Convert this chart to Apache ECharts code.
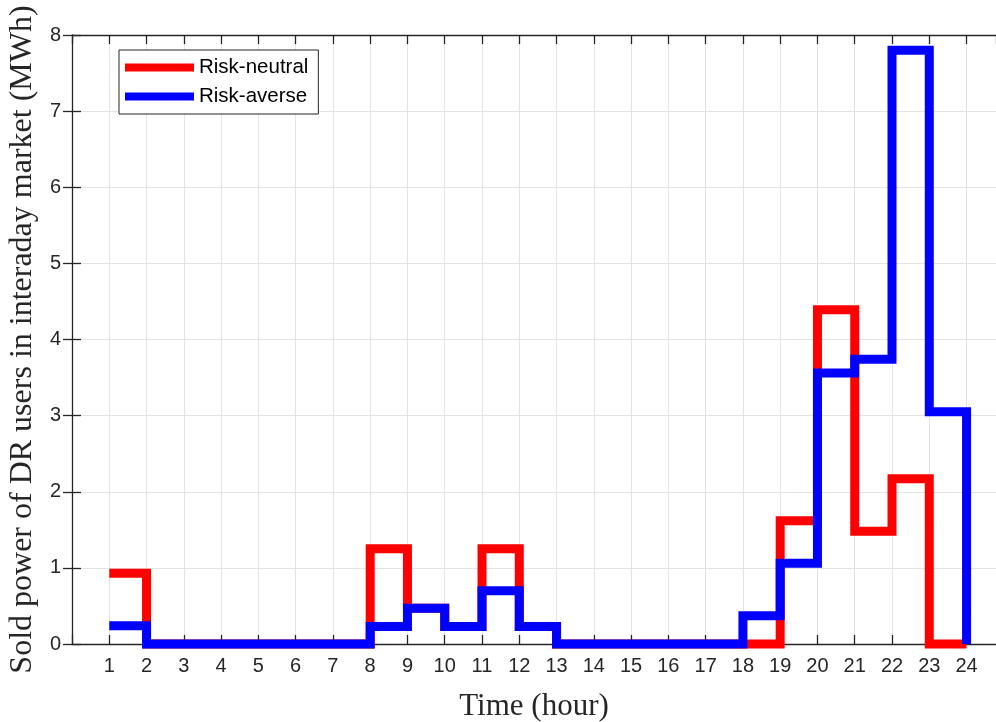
<!DOCTYPE html>
<html>
<head>
<meta charset="utf-8">
<script src="https://cdn.jsdelivr.net/npm/echarts@6/dist/echarts.min.js"></script>
<style>
html,body{margin:0;padding:0;background:#fff;}
#chart{width:996px;height:722px;}
</style>
</head>
<body>
<div id="chart"></div>
<script>
const hours = [1,2,3,4,5,6,7,8,9,10,11,12,13,14,15,16,17,18,19,20,21,22,23,24];
const riskNeutral = [0.93,0,0,0,0,0,0,1.25,0.47,0.23,1.25,0.23,0,0,0,0,0,0,1.62,4.39,1.48,2.17,0,0];
const riskAverse  = [0.24,0,0,0,0,0,0,0.23,0.47,0.23,0.70,0.23,0,0,0,0,0,0.37,1.06,3.56,3.74,7.80,3.05,0];
const seriesNames = ['Risk-neutral','Risk-averse'];
const xTitle = 'Time (hour)';
const yTitle = 'Sold power of DR users in interaday market (MWh)';

const axisColor = '#262626';
const sans = 'Liberation Sans, Arial, sans-serif';
const serif = 'Liberation Serif, Times New Roman, serif';

const chart = echarts.init(document.getElementById('chart'), null, {renderer:'canvas'});
const pairs = arr => hours.map((h,i)=>[h, arr[i]]);
const lineSeries = (name, data, color, z) => ({
  name, type:'line', step:'end', data: pairs(data), symbol:'none', clip:false,
  z, itemStyle:{color},
  lineStyle:{color, width:9, join:'miter', cap:'butt'}
});

chart.setOption({
  animation:false,
  grid:{left:72, top:35, right:0, bottom:78, containLabel:false, outerBoundsMode:'none'},
  legend:{
    left:119, top:50, orient:'vertical',
    data: seriesNames, icon:'rect', itemWidth:69, itemHeight:8, itemGap:8,
    padding:[7,10,7,6],
    borderColor:axisColor, borderWidth:1, backgroundColor:'#fff',
    textStyle:{fontFamily:sans, fontSize:20.5, color:'#000', lineHeight:20}
  },
  xAxis:[{
    type:'value', min:0, max:24.79, interval:1,
    name:xTitle, nameLocation:'middle', nameGap:47,
    nameTextStyle:{fontFamily:serif, fontSize:31, color:axisColor},
    axisLine:{show:true, onZero:false, lineStyle:{color:axisColor, width:1.3}},
    axisTick:{show:true, inside:true, length:9, lineStyle:{color:axisColor, width:1.3}},
    axisLabel:{fontFamily:sans, fontSize:20, color:axisColor, margin:12, showMaxLabel:false,
      formatter: v => (v>=1 && v<=24 && Number.isInteger(v)) ? String(v) : ''},
    splitLine:{show:true, lineStyle:{color:'#e3e3e3', width:1}}
  },{
    type:'value', position:'top', min:0, max:24.79, interval:1,
    axisLine:{show:true, onZero:false, lineStyle:{color:axisColor, width:1.3}},
    axisTick:{show:true, inside:true, length:9, lineStyle:{color:axisColor, width:1.3}},
    axisLabel:{show:false}, splitLine:{show:false}
  }],
  yAxis:[{
    type:'value', min:0, max:8, interval:1,
    name:yTitle, nameLocation:'middle', nameGap:33, nameRotate:90,
    nameTextStyle:{fontFamily:serif, fontSize:32, color:axisColor},
    axisLine:{show:true, onZero:false, lineStyle:{color:axisColor, width:1.3}},
    axisTick:{show:true, inside:true, length:9, lineStyle:{color:axisColor, width:1.3}},
    axisLabel:{fontFamily:sans, fontSize:20, color:axisColor, margin:11},
    splitLine:{show:true, lineStyle:{color:'#e3e3e3', width:1}}
  },{
    type:'value', position:'right', min:0, max:8, interval:1,
    axisLine:{show:false},
    axisTick:{show:true, inside:true, length:9, lineStyle:{color:axisColor, width:1.3}},
    axisLabel:{show:false}, splitLine:{show:false}
  }],
  series:[
    lineSeries(seriesNames[0], riskNeutral, '#ff0000', 3),
    lineSeries(seriesNames[1], riskAverse, '#0000ff', 4)
  ]
});
</script>
</body>
</html>
